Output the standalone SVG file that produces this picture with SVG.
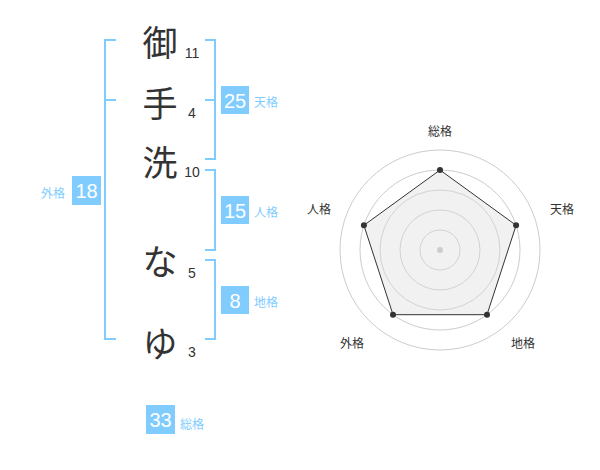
<svg xmlns="http://www.w3.org/2000/svg" width="600" height="470" viewBox="0 0 600 470">
<style>
.ch{font-family:"Noto Sans CJK JP","Noto Sans CJK SC",sans-serif;font-size:35px;fill:#333;text-anchor:middle;dominant-baseline:central}
.num{font-family:"Liberation Sans",Arial,sans-serif;font-size:14px;fill:#333;text-anchor:middle}
.br{fill:none;stroke:#80ccff;stroke-width:2}
.box{fill:#80ccff}
.bn{font-family:"Liberation Sans",Arial,sans-serif;font-size:20px;fill:#fff;text-anchor:middle}
.lb{font-family:"Noto Sans CJK JP","Noto Sans CJK SC",sans-serif;font-size:12px;fill:#80ccff;dominant-baseline:central}
.rl{font-family:"Noto Sans CJK JP","Noto Sans CJK SC",sans-serif;font-size:12px;fill:#333;text-anchor:middle;dominant-baseline:central}
.ring{fill:none;stroke:#ccc;stroke-width:1}
</style>
<rect width="600" height="470" fill="#fff"/>
<g id="connectors">
<path class="br" d="M116,40 H105 V339 H116 M105,100 H116"/>
<path class="br" d="M205,40 H215 V159 H205 M205,100 H215"/>
<path class="br" d="M205,170 H215 V250 H205"/>
<path class="br" d="M205,260 H215 V339 H205"/>
</g>
<g id="char1"><text class="ch" x="160" y="40">御</text><text class="num" x="192" y="58">11</text></g>
<g id="char2"><text class="ch" x="160" y="101">手</text><text class="num" x="192" y="118">4</text></g>
<g id="char3"><text class="ch" x="160" y="160">洗</text><text class="num" x="192" y="177">10</text></g>
<g id="char4"><text class="ch" x="160" y="259">な</text><text class="num" x="192" y="278">5</text></g>
<g id="char5"><text class="ch" x="160" y="341">ゆ</text><text class="num" x="192" y="357">3</text></g>
<g id="tenkaku"><rect class="box" x="221" y="86" width="28" height="28"/><text class="bn" x="235" y="107.5">25</text><text class="lb" x="254" y="101">天格</text></g>
<g id="jinkaku"><rect class="box" x="221" y="196" width="28" height="28"/><text class="bn" x="235" y="217.5">15</text><text class="lb" x="254" y="211">人格</text></g>
<g id="chikaku"><rect class="box" x="221" y="286" width="28" height="28"/><text class="bn" x="235" y="307.5">8</text><text class="lb" x="254" y="301">地格</text></g>
<g id="gaikaku"><rect class="box" x="72" y="176" width="29" height="29"/><text class="bn" x="86.5" y="198">18</text><text class="lb" x="41" y="192">外格</text></g>
<g id="soukaku"><rect class="box" x="146" y="405" width="29" height="29"/><text class="bn" x="160.5" y="427">33</text><text class="lb" x="180" y="423">総格</text></g>
<g id="radar">
<circle class="ring" cx="440" cy="250" r="20"/>
<circle class="ring" cx="440" cy="250" r="40"/>
<circle class="ring" cx="440" cy="250" r="60"/>
<circle class="ring" cx="440" cy="250" r="80"/>
<circle class="ring" cx="440" cy="250" r="100"/>
<polygon points="440,170 516.1,225.3 487,314.7 393,314.7 363.9,225.3" fill="#ddd" fill-opacity="0.4" stroke="#333" stroke-width="1"/>
<circle cx="440" cy="250" r="3" fill="#ccc"/>
<g fill="#333">
<circle cx="440" cy="170" r="3"/>
<circle cx="516.1" cy="225.3" r="3"/>
<circle cx="487" cy="314.7" r="3"/>
<circle cx="393" cy="314.7" r="3"/>
<circle cx="363.9" cy="225.3" r="3"/>
</g>
<text class="rl" x="440" y="130">総格</text>
<text class="rl" x="562" y="208">天格</text>
<text class="rl" x="523" y="342">地格</text>
<text class="rl" x="352" y="342">外格</text>
<text class="rl" x="319" y="208">人格</text>
</g>
</svg>
